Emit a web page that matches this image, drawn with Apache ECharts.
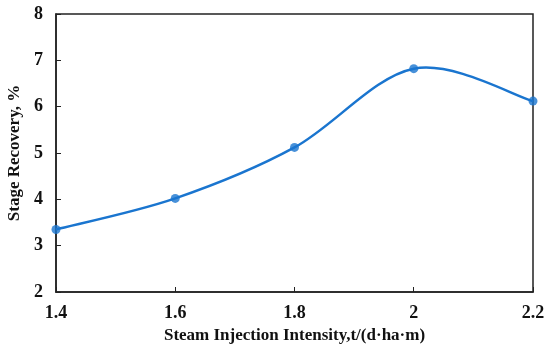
<!DOCTYPE html>
<html>
<head>
<meta charset="utf-8">
<script src="https://cdn.jsdelivr.net/npm/echarts@6/dist/echarts.min.js"></script>
<style>html,body{margin:0;padding:0;background:#fff}#c{width:550px;height:352px}</style>
</head>
<body>
<div id="c"></div>
<script>
var xValues = [1.4, 1.6, 1.8, 2.0, 2.2];
var recovery = [3.35, 4.02, 5.12, 6.82, 6.12];
var xTitle = 'Steam Injection Intensity,t/(d·ha·m)';
var yTitle = 'Stage Recovery, %';

var pts = xValues.map(function (x, i) { return [x, recovery[i]]; });
var chart = echarts.init(document.getElementById('c'), null, {renderer: 'canvas'});
var font = '"Liberation Serif", "Times New Roman", serif';
var blue = '#1a75cf';

function renderCurve(params, api) {
  if (params.dataIndex !== 0) return null;
  var p = pts.map(function (d) { return api.coord(d); });
  var n = p.length;
  var path = 'M' + p[0][0] + ' ' + p[0][1];
  for (var i = 0; i < n - 1; i++) {
    var p0 = p[Math.max(i - 1, 0)], p1 = p[i], p2 = p[i + 1], p3 = p[Math.min(i + 2, n - 1)];
    var c1 = [p1[0] + (p2[0] - p0[0]) / 6, p1[1] + (p2[1] - p0[1]) / 6];
    var c2 = [p2[0] - (p3[0] - p1[0]) / 6, p2[1] - (p3[1] - p1[1]) / 6];
    path += ' C' + c1[0] + ' ' + c1[1] + ' ' + c2[0] + ' ' + c2[1] + ' ' + p2[0] + ' ' + p2[1];
  }
  return {
    type: 'path',
    shape: {pathData: path},
    style: {fill: null, stroke: blue, lineWidth: 2.5}
  };
}

chart.setOption({
  animation: false,
  backgroundColor: '#fff',
  grid: {left: 56, right: 17, top: 14, bottom: 60, outerBoundsMode: 'none', containLabel: false,
    show: true, borderColor: '#222', borderWidth: 1.5, backgroundColor: 'transparent'},
  xAxis: {
    type: 'value', min: 1.4, max: 2.2, interval: 0.2,
    name: xTitle, nameLocation: 'middle', nameGap: 35,
    nameTextStyle: {fontFamily: font, fontWeight: 'bold', fontSize: 17, color: '#111'},
    axisLine: {show: true, lineStyle: {color: '#222', width: 1.5}},
    axisTick: {show: true, inside: true, length: 5, lineStyle: {color: '#222'}},
    axisLabel: {fontFamily: font, fontWeight: 'bold', fontSize: 18, color: '#111', margin: 12,
      formatter: function (v) { return String(Math.round(v * 10) / 10); }},
    splitLine: {show: false}
  },
  yAxis: {
    type: 'value', min: 2, max: 8, interval: 1,
    name: yTitle, nameLocation: 'middle', nameGap: 30, nameRotate: 90,
    nameTextStyle: {fontFamily: font, fontWeight: 'bold', fontSize: 17, color: '#111'},
    axisLine: {show: true, lineStyle: {color: '#222', width: 1.5}},
    axisTick: {show: true, inside: true, length: 5, lineStyle: {color: '#222'}},
    axisLabel: {fontFamily: font, fontWeight: 'bold', fontSize: 18, color: '#111', margin: 13},
    splitLine: {show: false}
  },
  series: [{
    type: 'custom',
    renderItem: renderCurve,
    data: pts,
    clip: false,
    z: 2
  }, {
    type: 'scatter',
    data: pts,
    symbol: 'circle', symbolSize: 9,
    itemStyle: {color: blue},
    clip: false,
    z: 3
  }]
});
</script>
</body>
</html>
